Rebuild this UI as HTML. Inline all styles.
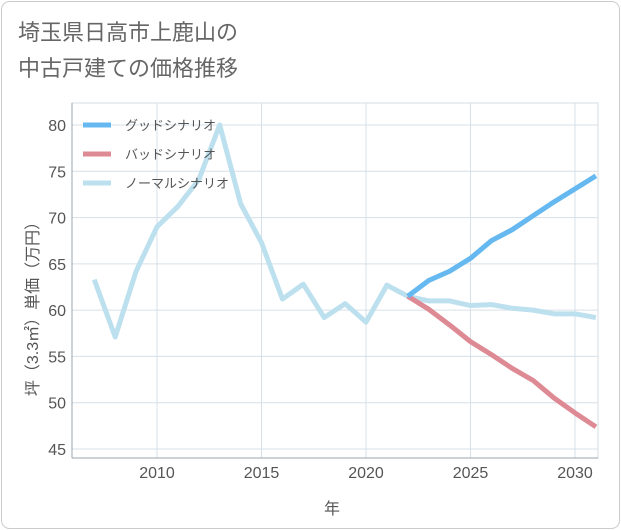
<!DOCTYPE html>
<html><head><meta charset="utf-8"><style>
body{margin:0;background:#fff;}
svg{display:block;font-family:"Liberation Sans","Noto Sans CJK JP",sans-serif;}
</style></head><body>
<svg width="621" height="530">
<rect x="1.5" y="1.5" width="618" height="527" rx="8" fill="#fff" stroke="#ccc"/>
<text x="18" y="40" font-size="22" fill="#666">埼玉県日高市上鹿山の</text>
<text x="18" y="76" font-size="22" fill="#666">中古戸建ての価格推移</text>
<g id="grid"></g>
<g id="axes"></g>
<g id="series"></g>
<g id="legend"></g>
<text x="332" y="514" font-size="16" fill="#555" text-anchor="middle">年</text>
<text transform="translate(38,305) rotate(-90)" font-size="16" fill="#555" text-anchor="middle">坪（3.3㎡）単価（万円）</text>
</svg>
<script>
const normalYears=[2007,2008,2009,2010,2011,2012,2013,2014,2015,2016,2017,2018,2019,2020,2021,2022,2023,2024,2025,2026,2027,2028,2029,2030,2031];
const normalValues=[63.3,57.1,64.2,69,71.2,74.1,80,71.5,67.3,61.2,62.8,59.2,60.7,58.7,62.7,61.5,61,61,60.5,60.6,60.2,60,59.6,59.6,59.2];
const scenarioYears=[2022,2023,2024,2025,2026,2027,2028,2029,2030,2031];
const goodValues=[61.5,63.2,64.2,65.6,67.5,68.7,70.2,71.7,73.1,74.5];
const badValues=[61.5,60.1,58.4,56.6,55.2,53.7,52.4,50.5,48.9,47.4];
const xTicks=[2010,2015,2020,2025,2030];
const yTicks=[45,50,55,60,65,70,75,80];
const NS="http://www.w3.org/2000/svg";
const L=72,R=598,T=103,B=458;
const xs=y=>157+(y-2010)*20.9;
const ys=v=>449-(v-45)*9.257;
function mk(t,a,p){const e=document.createElementNS(NS,t);for(const k in a)e.setAttribute(k,a[k]);p.appendChild(e);return e;}
const grid=document.getElementById('grid'),axes=document.getElementById('axes'),series=document.getElementById('series'),legend=document.getElementById('legend');
mk('rect',{x:L,y:T,width:R-L,height:B-T,fill:'none',stroke:'#d6dde3'},grid);
xTicks.forEach(t=>{const l=mk('line',{x1:xs(t),x2:xs(t),y1:T,y2:B,stroke:'#d6e0e8'},grid);

const tx=mk('text',{x:xs(t),y:478,'font-size':16,fill:'#555','text-anchor':'middle'},axes);tx.textContent=t;
});
yTicks.forEach(t=>{const l=mk('line',{x1:L,x2:R,y1:ys(t),y2:ys(t),stroke:'#d6e0e8'},grid);

const tx=mk('text',{x:66,y:ys(t)+6,'font-size':16,fill:'#555','text-anchor':'end'},axes);tx.textContent=t;
});
mk('line',{x1:L,x2:L,y1:T,y2:B,stroke:'#99a4ad'},axes);
mk('line',{x1:L,x2:R,y1:B,y2:B,stroke:'#99a4ad'},axes);
const cp=mk('clipPath',{id:'cp'},series);mk('rect',{x:L,y:T,width:R-L,height:B-T},cp);
function line(xv,yv,col,name){const p=mk('polyline',{points:xv.map((x,i)=>xs(x)+','+ys(yv[i])).join(' '),fill:'none',stroke:col,'stroke-width':5,'stroke-linejoin':'round','clip-path':'url(#cp)'},series);
}
line(normalYears,normalValues,'#bde0ef','normal-line');
line(scenarioYears,badValues,'#de8a94','bad-line');
line(scenarioYears,goodValues,'#66b8f0','good-line');
const leg=[['グッドシナリオ','#66b8f0'],['バッドシナリオ','#de8a94'],['ノーマルシナリオ','#bde0ef']];
leg.forEach((d,i)=>{const y=125+i*29;const g=mk('g',{},legend);

mk('line',{x1:83,x2:111,y1:y,y2:y,stroke:d[1],'stroke-width':5},g);
const t=mk('text',{x:125,y:y+5,'font-size':13,fill:'#555'},g);t.textContent=d[0];});
</script>
</body></html>
